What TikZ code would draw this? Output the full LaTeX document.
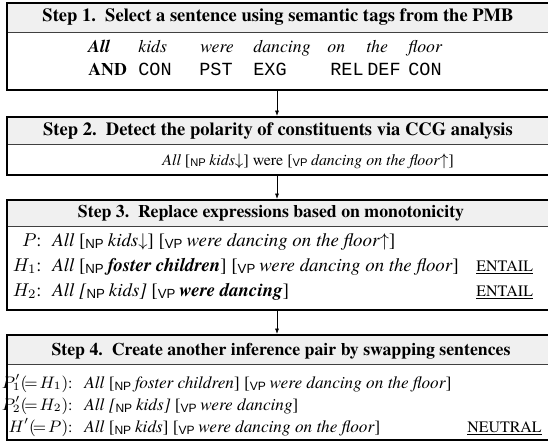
\documentclass[tikz,border=0pt]{standalone}
\usepackage{amsmath}
\usepackage{fontspec}
\setmainfont{TeX Gyre Termes}
\setsansfont{Liberation Sans}
\setmonofont{Liberation Mono}
\usetikzlibrary{arrows.meta,fit}
\newcommand{\tagNP}{$_{\textsf{NP}}$}
\newcommand{\tagVP}{$_{\textsf{VP}}$}
\newcommand{\lbl}[1]{\underline{\fontsize{8.6}{10}\selectfont #1}}
\newcommand{\fsz}[1]{\fontsize{#1}{#1}\selectfont}
\begin{document}
\begin{tikzpicture}[x=0.54pt,y=-0.54pt,
  stepbox/.style={draw=black, line width=1pt, inner sep=0pt},
  hdrfill/.style={fill=black!6},
  hdrline/.style={draw=black!75, line width=0.5pt},
  hdr/.style={font=\bfseries, anchor=base, inner sep=0pt},
  txt/.style={anchor=base west, inner sep=0pt},
  lab/.style={anchor=base east, inner sep=0pt},
  slab/.style={anchor=base east, inner sep=0pt, font=\fsz{8.6}},
  tg/.style={anchor=base west, inner sep=0pt, font=\ttfamily\fsz{10}},
  arr/.style={line width=0.4pt, -{Latex[length=3pt,width=2.2pt]}}]
\useasboundingbox (0,0) rectangle (548,444);
% header fills
\fill[hdrfill] (7,3) rectangle (553,32);
\fill[hdrfill] (7,117) rectangle (553,144);
\fill[hdrfill] (7,200) rectangle (553,226);
\fill[hdrfill] (7,335) rectangle (553,364);
\draw[hdrline] (7,32) -- (553,32);
\draw[hdrline] (7,144) -- (553,144);
\draw[hdrline] (7,226) -- (553,226);
\draw[hdrline] (7,364) -- (553,364);
% boxes
\node[stepbox, fit={(7,3) (553,90)}] (b1) {};
\node[stepbox, fit={(7,117) (553,175)}] (b2) {};
\node[stepbox, fit={(7,200) (553,310)}] (b3) {};
\node[stepbox, fit={(7,335) (553,440)}] (b4) {};
% arrows
\coordinate (ax) at (277,0);
\draw[arr] (b1.south -| ax) -- (b2.north -| ax);
\draw[arr] (b2.south -| ax) -- (b3.north -| ax);
\draw[arr] (b3.south -| ax) -- (b4.north -| ax);
% headers
\node[hdr] (h1) at (278,22) {Step 1.\ \ Select a sentence using semantic tags from the PMB};
\node[hdr] (h2) at (278,135) {Step 2.\ \ Detect the polarity of constituents via CCG analysis};
\node[hdr, font=\bfseries\fsz{9.6}] (h3) at (271,217) {Step 3.\ \ Replace expressions based on monotonicity};
\node[hdr, font=\bfseries\fsz{9.6}] (h4) at (281,355) {Step 4.\ \ Create another inference pair by swapping sentences};
% step 1
\begin{scope}[every node/.append style={font=\fsz{9.6}}]
\node[txt] (w1) at (88,53) {\textbf{\textit{All}}};
\node[txt] (w2) at (138,53) {\textit{kids}};
\node[txt] (w3) at (200,53) {\textit{were}};
\node[txt] (w4) at (253,53) {\textit{dancing}};
\node[txt] (w5) at (327,53) {\textit{on}};
\node[txt] (w6) at (366,53) {\textit{the}};
\node[txt] (w7) at (408,53) {\textit{floor}};
\node[txt] (t1) at (88,76) {\textbf{AND}};
\end{scope}
\node[tg] (t2) at (138,76) {CON};
\node[tg] (t3) at (199,76) {PST};
\node[tg] (t4) at (253,76) {EXG};
\node[tg] (t5) at (330,76) {REL};
\node[tg] (t6) at (367,76) {DEF};
\node[tg] (t7) at (408,76) {CON};
% step 2
\node[txt, font=\fsz{8.6}] (s2) at (162,165) {\textit{All} [\tagNP\,\textit{kids}$\downarrow$] were [\tagVP\,\textit{dancing on the floor}$\uparrow$]};
% step 3
\node[lab] (l31) at (42,246) {$P$:};
\node[lab] (l32) at (42,271) {$H_1$:};
\node[lab] (l33) at (42,296) {$H_2$:};
\begin{scope}[every node/.append style={font=\fsz{10.2}}]
\node[txt] (s31) at (52,246) {\textit{All} [\tagNP\,\textit{kids}$\downarrow$] [\tagVP\,\textit{were dancing on the floor}$\uparrow$]};
\node[txt] (s32) at (52,271) {\textit{All} [\tagNP\,\textbf{\textit{foster children}}] [\tagVP\,\textit{were dancing on the floor}]};
\node[txt] (s33) at (52,296) {\textit{All [}\tagNP\,\textit{kids]} [\tagVP\,\textbf{\textit{were dancing}}]};
\end{scope}
\node[txt] (e1) at (476,271) {\lbl{ENTAIL}};
\node[txt] (e2) at (476,296) {\lbl{ENTAIL}};
% step 4
\node[slab] (l41) at (73,388) {$P_1'(\!=\!H_1)$:};
\node[slab] (l42) at (73,410) {$P_2'(\!=\!H_2)$:};
\node[slab] (l43) at (73,432) {$H'(\!=\!P)$:};
\begin{scope}[every node/.append style={font=\fsz{9.3}}]
\node[txt] (s41) at (84,388) {\textit{All} [\tagNP\,\textit{foster children}] [\tagVP\,\textit{were dancing on the floor}]};
\node[txt] (s42) at (84,410) {\textit{All [}\tagNP\,\textit{kids]} [\tagVP\,\textit{were dancing}]};
\node[txt] (s43) at (84,432) {\textit{All} [\tagNP\,\textit{kids}] [\tagVP\,\textit{were dancing on the floor}]};
\end{scope}
\node[txt] (n1) at (467,432) {\lbl{NEUTRAL}};
\end{tikzpicture}
\end{document}
